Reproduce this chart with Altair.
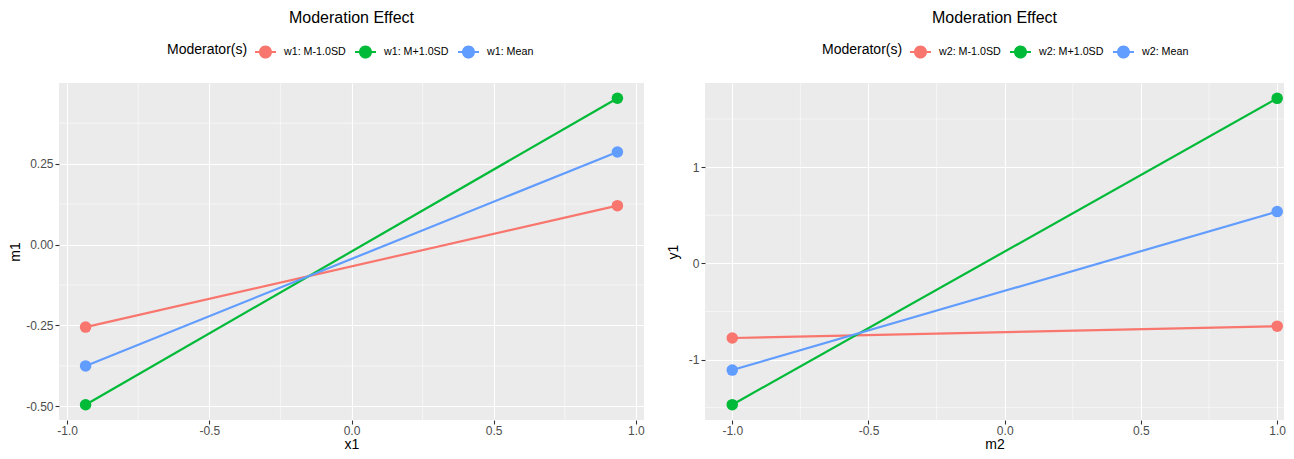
import altair as alt
import pandas as pd

# ---- data ----
series1 = ["w1: M-1.0SD", "w1: M+1.0SD", "w1: Mean"]
series2 = ["w2: M-1.0SD", "w2: M+1.0SD", "w2: Mean"]
colors = ["#F8766D", "#00BA38", "#619CFF"]

x1_vals = [-0.935, 0.935]
m1_low = [-0.255, -0.495, -0.375]
m1_high = [0.120, 0.452, 0.286]

m2_vals = [-1.0, 1.0]
y1_low = [-0.776, -1.469, -1.109]
y1_high = [-0.653, 1.715, 0.538]

x_major = [-1.0, -0.5, 0.0, 0.5, 1.0]
x_minor = [-0.75, -0.25, 0.25, 0.75]
m1_major = [-0.5, -0.25, 0.0, 0.25]
m1_minor = [-0.375, -0.125, 0.125, 0.375]
y1_major = [-1, 0, 1]
y1_minor = [-1.5, -0.5, 0.5, 1.5]

FONT = "Liberation Sans"
SYMBOL = ("M-1,-0.095H-0.6V0.095H-1Z M0.6,-0.095H1V0.095H0.6Z "
          "M-0.62,0A0.62,0.62,0,1,1,0.62,0A0.62,0.62,0,1,1,-0.62,0Z")


def long_df(series, xs, low, high):
    rows = []
    for s, a, b in zip(series, low, high):
        rows.append({"x": xs[0], "y": a, "g": s})
        rows.append({"x": xs[1], "y": b, "g": s})
    return pd.DataFrame(rows)


def panel(df, series, xtitle, ytitle, xdom, ydom, xmaj, xmin, ymaj, ymin,
          yfmt, legend_x, width, ytpad):
    xs = alt.Scale(domain=xdom, nice=False, zero=False)
    ys = alt.Scale(domain=ydom, nice=False, zero=False)
    fix = "replace(format(datum.value, '%s'), '\u2212', '-')"
    xaxis = alt.Axis(values=xmaj, title=xtitle, labelExpr=fix % ".1f",
                     labelPadding=1, titlePadding=1)
    yaxis = alt.Axis(values=ymaj, title=ytitle, labelExpr=fix % yfmt,
                     titlePadding=ytpad)
    color = alt.Color("g:N", title="Moderator(s)",
                      scale=alt.Scale(domain=series, range=colors),
                      legend=alt.Legend(orient="none", legendX=legend_x,
                                        legendY=-42, direction="horizontal",
                                        titleOrient="left"))
    vminor = alt.Chart(pd.DataFrame({"x": xmin})).mark_rule(
        color="white", strokeWidth=0.55).encode(
        x=alt.X("x:Q", scale=xs, axis=xaxis))
    hminor = alt.Chart(pd.DataFrame({"y": ymin})).mark_rule(
        color="white", strokeWidth=0.55).encode(
        y=alt.Y("y:Q", scale=ys, axis=yaxis))
    base = alt.Chart(df).encode(
        x=alt.X("x:Q", scale=xs, axis=xaxis),
        y=alt.Y("y:Q", scale=ys, axis=yaxis),
        color=color,
    )
    lines = base.mark_line(strokeWidth=2.2)
    pts = base.mark_point(filled=True, size=133, opacity=1)
    return alt.layer(vminor, hminor, lines, pts).properties(
        width=width, height=337,
        title=alt.TitleParams("Moderation Effect", anchor="middle",
                              frame="group", fontSize=16,
                              fontWeight="normal", font=FONT, offset=15,
                              color="black"),
    )


left = panel(long_df(series1, x1_vals, m1_low, m1_high), series1, "x1", "m1",
             [-1.0285, 1.0285], [-0.542, 0.499], x_major, x_minor,
             m1_major, m1_minor, ".2f", 108, 585, 3)
right = panel(long_df(series2, m2_vals, y1_low, y1_high), series2, "m2", "y1",
              [-1.1, 1.025], [-1.628, 1.874], x_major, x_minor,
              y1_major, y1_minor, "d", 117, 579, 8)

chart = alt.hconcat(left, right, spacing=21).resolve_scale(
    color="independent").resolve_legend(color="independent").configure(
    padding={"top": 2, "left": 0, "right": 0, "bottom": 0},
    background="white"
).configure_view(fill="#EBEBEB", stroke=None).configure_axis(
    labelFont=FONT, titleFont=FONT, labelFontSize=12, titleFontSize=14,
    titleFontWeight="normal", labelColor="#4D4D4D", titleColor="black",
    tickColor="#333333", tickSize=4, tickWidth=1.1, domain=False,
    grid=True, gridColor="white", gridWidth=1.1, labelPadding=2,
    titlePadding=3,
).configure_legend(
    labelFont=FONT, titleFont=FONT, labelFontSize=10.7, titleFontSize=14,
    titleFontWeight="normal", labelColor="black", titleColor="black",
    symbolType=SYMBOL, symbolSize=441, symbolStrokeWidth=0,
    titlePadding=7, labelOffset=8, columnPadding=9,
)

chart.save("out.html", embed_options={"renderer": "svg", "actions": False})
